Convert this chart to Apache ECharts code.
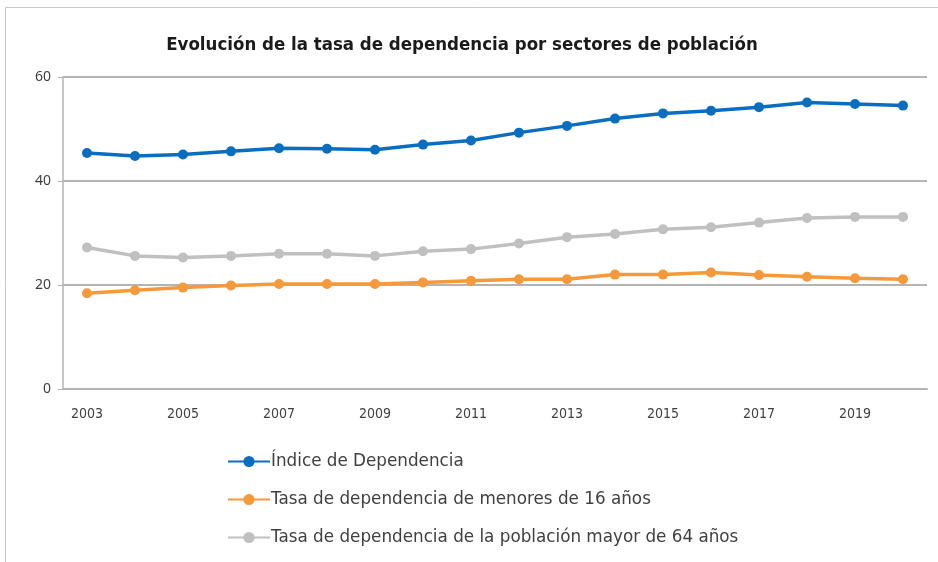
<!DOCTYPE html>
<html>
<head>
<meta charset="utf-8">
<script src="https://cdn.jsdelivr.net/npm/echarts@6/dist/echarts.min.js"></script>
<style>
  html, body { margin: 0; padding: 0; background: #fff; }
  #grafico { width: 938px; height: 562px; }
</style>
</head>
<body>
<div id="grafico"></div>
<script>
// datos
var anios = ['2003','2004','2005','2006','2007','2008','2009','2010','2011','2012',
             '2013','2014','2015','2016','2017','2018','2019','2020'];
var nombres = [
  'Índice de Dependencia',
  'Tasa de dependencia de menores de 16 años',
  'Tasa de dependencia de la población mayor de 64 años'
];
var indiceDependencia = [45.4, 44.8, 45.1, 45.7, 46.3, 46.2, 46.0, 47.0, 47.8, 49.3,
                         50.6, 52.0, 53.0, 53.5, 54.2, 55.1, 54.8, 54.5];
var menores16 = [18.4, 19.0, 19.5, 19.9, 20.2, 20.2, 20.2, 20.5, 20.8, 21.1,
                 21.1, 22.0, 22.0, 22.4, 21.9, 21.6, 21.3, 21.1];
var mayores64 = [27.2, 25.6, 25.3, 25.6, 26.0, 26.0, 25.6, 26.5, 26.9, 28.0,
                 29.2, 29.8, 30.7, 31.1, 32.0, 32.9, 33.1, 33.1];
var colores = ['#0A6EC0', '#F5993A', '#C0C0C0'];

var fuenteEstrecha = "'DejaVu Sans Condensed', 'Liberation Sans', sans-serif";
var fuente = "'Noto Sans', 'Liberation Sans', sans-serif";

var chart = echarts.init(document.getElementById('grafico'));

function serie(nombre, datos, color) {
  return {
    name: nombre,
    type: 'line',
    data: datos,
    symbol: 'circle',
    symbolSize: 10,
    lineStyle: { width: 3.5, color: color },
    itemStyle: { color: color },
    animation: false
  };
}

chart.setOption({
  backgroundColor: '#fff',
  title: {
    text: 'Evolución de la tasa de dependencia por sectores de población',
    left: 457,
    textAlign: 'center',
    top: 31,
    textStyle: {
      fontFamily: fuenteEstrecha,
      fontWeight: 'bold',
      fontSize: 18.5,
      color: '#1a1a1a'
    }
  },
  graphic: [{
    type: 'rect',
    shape: { x: 5.5, y: 7.5, width: 1000, height: 1000 },
    style: { fill: 'none', stroke: '#c8c8c8', lineWidth: 1 },
    silent: true
  }],
  legend: {
    orient: 'vertical',
    left: 222,
    top: 448,
    itemWidth: 42,
    itemHeight: 14,
    itemGap: 21,
    data: nombres,
    textStyle: {
      fontFamily: "'DejaVu Sans', sans-serif",
      fontSize: 16.8,
      color: '#404040',
      padding: [0, 0, 0, -4]
    }
  },
  grid: { left: 63, right: 11, top: 77, bottom: 173 },
  xAxis: {
    type: 'category',
    data: anios,
    boundaryGap: true,
    axisLine: { lineStyle: { color: '#B4B4B4', width: 2 } },
    axisTick: { show: false },
    axisLabel: {
      interval: 1,
      margin: 18,
      fontFamily: fuenteEstrecha,
      fontSize: 14,
      color: '#404040'
    }
  },
  yAxis: {
    type: 'value',
    min: 0,
    max: 60,
    interval: 20,
    axisLine: { show: true, lineStyle: { color: '#B4B4B4', width: 1.5 } },
    axisTick: { show: true, length: 5, lineStyle: { color: '#B4B4B4' } },
    splitLine: { lineStyle: { color: '#B4B4B4', width: 2 } },
    axisLabel: {
      margin: 12,
      fontFamily: fuente,
      fontSize: 14,
      color: '#404040'
    }
  },
  series: [
    serie(nombres[0], indiceDependencia, colores[0]),
    serie(nombres[1], menores16, colores[1]),
    serie(nombres[2], mayores64, colores[2])
  ]
});
</script>
</body>
</html>
